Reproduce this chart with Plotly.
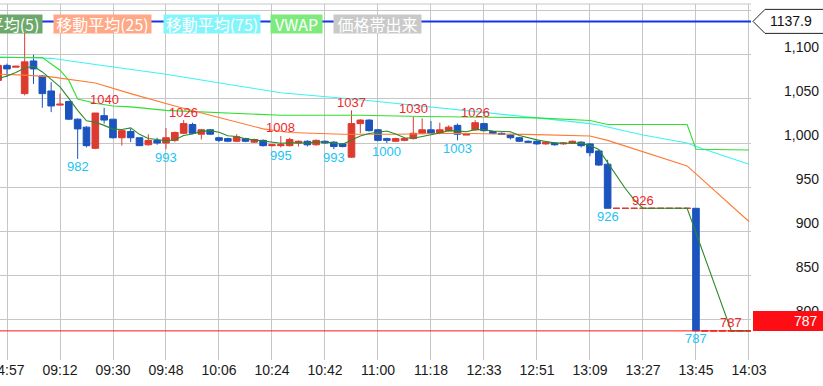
import plotly.graph_objects as go

# ---------------- data ----------------
times = ["14:54", "14:57", "15:00",
         "09:00", "09:03", "09:06", "09:09", "09:12", "09:15", "09:18", "09:21", "09:24", "09:27",
         "09:30", "09:33", "09:36", "09:39", "09:42", "09:45", "09:48", "09:51", "09:54", "09:57",
         "10:00", "10:03", "10:06", "10:09", "10:12", "10:15", "10:18", "10:21", "10:24", "10:27",
         "10:30", "10:33", "10:36", "10:39", "10:42", "10:45", "10:48", "10:51", "10:54", "10:57",
         "11:00", "11:03", "11:06", "11:09", "11:12", "11:15", "11:18", "11:21", "11:24", "11:27", "11:30",
         "12:30", "12:33", "12:36", "12:39", "12:42", "12:45", "12:48", "12:51", "12:54", "12:57",
         "13:00", "13:03", "13:06", "13:09", "13:12", "13:15", "13:18", "13:21", "13:24", "13:27",
         "13:30", "13:33", "13:36", "13:39", "13:42", "13:45", "13:48", "13:51", "13:54", "13:57",
         "14:00", "14:03"]

opens = [1071, 1088, 1086,
         1056, 1093, 1076, 1059, 1043, 1047, 1027, 1018, 994, 1031,
         1027, 1006, 1013, 1006, 998, 1003, 1000, 1003, 1011, 1021,
         1010, 1015, 1006, 1005, 1002, 1005, 1001, 1003, 997, 997,
         997, 1000, 1002, 998, 1002, 1001, 999, 984, 1022, 1026,
         1015, 1005, 1002, 1003, 1005, 1011, 1015, 1011, 1014, 1020, 1009,
         1015, 1022, 1013, 1011, 1009, 1006, 1002, 1002, 999, 1000,
         999, 1000, 1001, 999, 991, 976, 926, 926, 926, 926,
         926, 926, 926, 926, 926, 926, 787, 787, 787, 787,
         787, 787]
highs = [1090, 1090, 1087,
         1125, 1100, 1077, 1069, 1056, 1048, 1028, 1019, 1034, 1040,
         1027, 1015, 1016, 1006, 1010, 1006, 1017, 1013, 1026, 1023,
         1016, 1016, 1007, 1006, 1010, 1006, 1005, 1004, 999, 1008,
         1006, 1003, 1003, 1004, 1003, 1002, 1000, 1037, 1027, 1027,
         1016, 1006, 1006, 1006, 1030, 1028, 1025, 1023, 1020, 1022, 1010,
         1026, 1023, 1014, 1012, 1010, 1007, 1003, 1003, 1002, 1001,
         1001, 1003, 1002, 1000, 992, 981, 926, 926, 926, 926,
         926, 926, 926, 926, 926, 926, 787, 787, 787, 787,
         787, 787]
lows = [1068, 1075, 1086,
        1054, 1067, 1040, 1035, 1043, 1026, 982, 995, 993, 1022,
        1005, 997, 1001, 997, 997, 998, 993, 1001, 1010, 1010,
        1004, 1009, 1001, 1001, 1001, 1001, 1000, 996, 996, 995,
        996, 996, 996, 997, 999, 993, 995, 983, 1011, 1013,
        1002, 1000, 1001, 1002, 1004, 1010, 1010, 1010, 1013, 1003, 1009,
        1014, 1013, 1010, 1009, 1004, 1001, 1000, 998, 998, 997,
        998, 999, 995, 985, 974, 926, 926, 926, 926, 926,
        926, 926, 926, 926, 926, 787, 787, 787, 787, 787,
        787, 787]
closes = [1088, 1084, 1087,
          1092, 1084, 1056, 1042, 1044, 1027, 1016, 997, 1034, 1026,
          1006, 1014, 1006, 997, 1003, 1000, 1006, 1012, 1022, 1011,
          1015, 1010, 1003, 1002, 1007, 1002, 1004, 997, 998, 998,
          1004, 1002, 998, 1003, 1000, 996, 996, 1022, 1026, 1014,
          1003, 1003, 1005, 1005, 1011, 1015, 1011, 1015, 1018, 1010, 1010,
          1023, 1014, 1011, 1010, 1006, 1002, 1001, 999, 1001, 998,
          1000, 1002, 997, 989, 975, 926, 926, 926, 926, 926,
          926, 926, 926, 926, 926, 787, 787, 787, 787, 787,
          787, 787]

ma5 = [1073, 1076, 1080,
       1085, 1087, 1080.6, 1072.2, 1063.6, 1050.6, 1037, 1025.2, 1023.6, 1020,
       1015.8, 1015.4, 1017.2, 1009.8, 1005.2, 1004, 1002.4, 1003.6, 1008.6, 1010.2,
       1013.2, 1014, 1012.2, 1008.2, 1007.4, 1004.8, 1003.6, 1002.4, 1001.6, 999.8,
       1000.2, 999.8, 1000, 1001, 1001.4, 999.8, 998.6, 1003.4, 1008, 1010.8,
       1012.2, 1013.6, 1010.2, 1006, 1005.4, 1007.8, 1009.4, 1011.4, 1014, 1013.8, 1012.8,
       1015.2, 1015, 1013.6, 1013.6, 1012.8, 1008.6, 1006, 1003.6, 1001.8, 1000.2,
       999.8, 1000, 999.6, 997.2, 992.6, 977.8, 962.6, 948.4, 935.8, 926,
       926, 926, 926, 926, 926, 898.2, 870.4, 842.6, 814.8, 787,
       787, 787]

ma25_t = ["14:54", "09:00", "09:09", "09:21", "09:24", "09:36", "09:51", "10:06", "10:21",
          "10:30", "10:48", "11:06", "11:27", "12:51", "13:09", "13:15", "13:42", "13:45", "14:03"]
ma25_v = [1078, 1077, 1075, 1069, 1068, 1056, 1042, 1029, 1016,
          1012, 1010, 1010, 1011, 1009.5, 1008, 1003, 974, 965, 911]

ma75_t = ["14:54", "09:09", "09:24", "09:48", "10:12", "10:27", "10:54", "11:15", "12:36",
          "12:51", "13:09", "13:12", "13:27", "13:42", "13:45", "14:03"]
ma75_v = [1097.5, 1096, 1089, 1078, 1065, 1057, 1049, 1042, 1034,
          1028.5, 1022, 1020.5, 1009, 1000, 996, 976]

vwap_t = ["14:54", "09:06", "09:12", "09:15", "09:18", "09:24", "09:30", "09:36", "09:48",
          "10:12", "10:27", "10:54", "11:15", "12:51", "13:09", "13:15", "13:42", "13:45", "14:03"]
vwap_v = [1097, 1097, 1082.5, 1071, 1050, 1045, 1042, 1041, 1037,
          1034, 1031.5, 1031.5, 1030, 1028.5, 1025.5, 1021, 1021, 993, 992]

high_lbl_t = ["09:27", "09:54", "10:27", "10:51", "11:12", "12:30", "13:27", "13:57"]
high_lbl_v = [1040, 1026, 1008, 1037, 1030, 1026, 926, 787]
low_lbl_t = ["09:18", "09:48", "10:27", "10:45", "11:03", "11:27", "13:15", "13:45"]
low_lbl_v = [982, 993, 995, 993, 1000, 1003, 926, 787]

tick_times = ["14:57", "09:12", "09:30", "09:48", "10:06", "10:24", "10:42", "11:00",
              "11:18", "12:33", "12:51", "13:09", "13:27", "13:45", "14:03"]
y_ticks = [800, 850, 900, 950, 1000, 1050, 1100, 1150]

ref_price = 1137.9
last_price = 787

legend_names = ["移動平均(5)", "移動平均(25)", "移動平均(75)", "VWAP", "価格帯出来"]
legend_colors = ["#6ca86c", "#ffa886", "#84f4fb", "#7eea7e", "#c9c9c9"]

# ---------------- styling ----------------
W, H = 823, 386
PLOT_R = 751
RED = "#dc3b30"
BLUE = "#1b54be"
LBL_RED = "#f2252b"
LBL_BLUE = "#22c3f2"
GRID = "#c6c6c6"
FONT = "Liberation Sans, Arial, sans-serif"

is_up = [c >= o for o, c in zip(opens, closes)]


def pick(arr, want):
    return [v if u == want else None for v, u in zip(arr, is_up)]


fig = go.Figure()

for want, col in ((True, RED), (False, BLUE)):
    fig.add_trace(go.Candlestick(
        x=times, open=pick(opens, want), high=pick(highs, want),
        low=pick(lows, want), close=pick(closes, want),
        increasing=dict(line=dict(color=col, width=1), fillcolor=col),
        decreasing=dict(line=dict(color=col, width=1), fillcolor=col),
        whiskerwidth=0, showlegend=False, hoverinfo="skip"))

fig.add_trace(go.Scatter(x=ma75_t, y=ma75_v, mode="lines",
                         line=dict(color="#3ef2f2", width=1.1), showlegend=False, hoverinfo="skip"))
fig.add_trace(go.Scatter(x=vwap_t, y=vwap_v, mode="lines",
                         line=dict(color="#2fe02f", width=1.1), showlegend=False, hoverinfo="skip"))
fig.add_trace(go.Scatter(x=ma25_t, y=ma25_v, mode="lines",
                         line=dict(color="#ff7a33", width=1.1), showlegend=False, hoverinfo="skip"))
fig.add_trace(go.Scatter(x=times, y=ma5, mode="lines",
                         line=dict(color="#2a8a2a", width=1.1), showlegend=False, hoverinfo="skip"))

annotations = []
for t, v in zip(high_lbl_t, high_lbl_v):
    annotations.append(dict(x=t, y=v, xref="x", yref="y", text=f"{v}", showarrow=False,
                            yshift=8, font=dict(family=FONT, size=13, color=LBL_RED)))
for t, v in zip(low_lbl_t, low_lbl_v):
    annotations.append(dict(x=t, y=v, xref="x", yref="y", text=f"{v}", showarrow=False,
                            yshift=-8, font=dict(family=FONT, size=13, color=LBL_BLUE)))

# legend-like tags
leg_left = [-48, 53, 163, 270, 333]
leg_width = [89, 97, 96, 51, 87]
for name, col, lx, lw in zip(legend_names, legend_colors, leg_left, leg_width):
    annotations.append(dict(x=lx / W, y=(360 - 24) / 356, xref="paper", yref="paper",
                            xanchor="left", yanchor="middle", text=name, showarrow=False,
                            width=lw, height=18, borderpad=0, bgcolor=col, align="center",
                            font=dict(family="Noto Sans CJK JP", size=16, color="white")))

# price tags
annotations.append(dict(x=791 / W, y=ref_price, xref="paper", yref="y", text=f"{ref_price}",
                        xanchor="center", yanchor="middle", showarrow=False,
                        font=dict(family=FONT, size=14, color="#111")))
annotations.append(dict(x=820 / W, y=last_price, xref="paper", yref="y", text=f"{last_price}",
                        xanchor="right", yanchor="middle", yshift=10, showarrow=False,
                        font=dict(family=FONT, size=14, color="white")))

shapes = [
    dict(type="line", xref="x domain", yref="y", x0=0, x1=1, y0=ref_price, y1=ref_price,
         line=dict(color="#1434e8", width=2), layer="above"),
    dict(type="line", xref="x domain", yref="y", x0=0, x1=1, y0=last_price, y1=last_price,
         line=dict(color="#ff1414", width=1), layer="above"),
    dict(type="line", xref="paper", yref="paper", x0=0, x1=PLOT_R / W, y0=1, y1=1,
         line=dict(color=GRID, width=1)),
    dict(type="path", xref="paper", yref="y", xsizemode="pixel", ysizemode="pixel",
         xanchor=PLOT_R / W, yanchor=ref_price,
         path="M 2 0 L 14 12 L 80 12 L 80 -12 L 14 -12 Z",
         fillcolor="white", line=dict(color="#222", width=1), layer="above"),
    dict(type="rect", xref="paper", yref="y", ysizemode="pixel", yanchor=last_price,
         x0=753 / W, x1=1.0, y0=0, y1=20, fillcolor="#ff0d14", line=dict(width=0), layer="above"),
]

fig.update_layout(
    width=W, height=H,
    margin=dict(l=0, r=0, t=4, b=26, autoexpand=False),
    paper_bgcolor="white", plot_bgcolor="white",
    font=dict(family=FONT, size=14, color="#1a1a1a"),
    showlegend=False,
    boxgap=0.25, boxgroupgap=0,
    annotations=annotations,
    shapes=shapes,
    xaxis=dict(type="category", categoryorder="array", categoryarray=times,
               domain=[0, PLOT_R / W], range=[0.2075, 85.23], automargin=False,
               tickvals=tick_times, ticktext=tick_times,
               showgrid=True, gridcolor=GRID, gridwidth=1, ticks="", showline=False,
               zeroline=False, rangeslider=dict(visible=False),
               tickfont=dict(family=FONT, size=14, color="#1a1a1a")),
    yaxis=dict(range=[754, 1157.6], anchor="free", position=1, side="left", automargin=False,
               tickvals=y_ticks, tickformat=",", showgrid=True, gridcolor=GRID, gridwidth=1,
               ticks="", showline=False, zeroline=False, ticklabelshift=-8, ticklabelstandoff=4,
               tickfont=dict(family=FONT, size=14, color="#1a1a1a")),
)

fig.write_html("out.html", config={"displayModeBar": False},
               post_script="document.body.style.margin='0';document.body.style.overflow='hidden';")
